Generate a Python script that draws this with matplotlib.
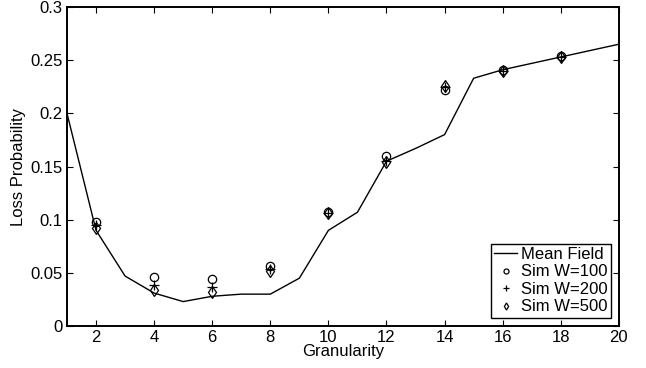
import numpy as np
import matplotlib
matplotlib.use("Agg")
import matplotlib.pyplot as plt

plt.rcParams['font.family'] = ['Liberation Sans', 'DejaVu Sans']

# mean field curve
g_mf = [1, 2, 3, 4, 5, 6, 7, 8, 9, 10, 11, 12, 13, 14, 15, 16, 17, 18, 19, 20]
mf = [0.200, 0.090, 0.047, 0.031, 0.023, 0.028, 0.030, 0.030, 0.045, 0.090,
      0.107, 0.155, 0.167, 0.180, 0.233, 0.241, 0.247, 0.253, 0.259, 0.265]

# simulations
g_sim = [2, 4, 6, 8, 10, 12, 14, 16, 18]
sim100 = [0.098, 0.046, 0.044, 0.056, 0.107, 0.160, 0.222, 0.241, 0.254]
sim200 = [0.095, 0.039, 0.037, 0.054, 0.106, 0.155, 0.225, 0.240, 0.253]
sim500 = [0.092, 0.034, 0.032, 0.052, 0.106, 0.154, 0.226, 0.240, 0.253]

fig = plt.figure(figsize=(6.46, 3.68), dpi=100)
ax = fig.add_axes([0.1037, 0.114, 0.8543, 0.867])

ax.plot(g_mf, mf, color='black', lw=1.0, label='Mean Field')
ax.plot(g_sim, sim100, 'o', mfc='none', mec='black', ms=6, mew=0.9, label='Sim W=100')
ax.plot(g_sim, sim200, '+', color='black', ms=7, mew=0.9, label='Sim W=200')
ax.plot(g_sim, sim500, 'd', mfc='none', mec='black', ms=6, mew=0.9, label='Sim W=500')

ax.set_xlim(1, 20)
ax.set_ylim(0, 0.3)
ax.set_xticks([2, 4, 6, 8, 10, 12, 14, 16, 18, 20])
ax.set_yticks([0, 0.05, 0.1, 0.15, 0.2, 0.25, 0.3])
ax.set_yticklabels(['0', '0.05', '0.1', '0.15', '0.2', '0.25', '0.3'])
ax.tick_params(direction='in', top=True, right=True, labelsize=12, length=4, pad=3)
for s in ax.spines.values():
    s.set_linewidth(1.4)

ax.set_xlabel('Granularity', fontsize=12, labelpad=-1)
ax.set_ylabel('Loss Probability', fontsize=12, labelpad=3)

leg = ax.legend(loc='lower right', fontsize=12, fancybox=False, edgecolor='black',
                framealpha=1, handlelength=1.4, handletextpad=0.2, borderpad=0.2,
                labelspacing=0.15, borderaxespad=0.5, markerscale=0.6)
leg.get_frame().set_linewidth(1.0)

fig.savefig('out.png', dpi=100)
